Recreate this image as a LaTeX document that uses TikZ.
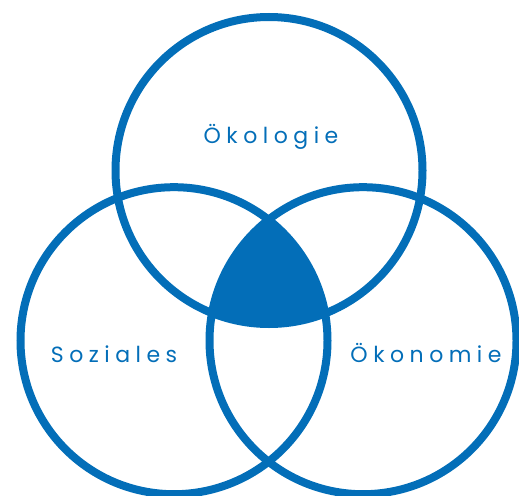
\documentclass[tikz,border=0pt]{standalone}
\usepackage{fontspec}
\setmainfont{Poppins}[LetterSpace=25]
\definecolor{vblue}{RGB}{3,110,184}
\tikzset{
  ring/.style={circle, draw=vblue, line width=8pt, inner sep=0pt, minimum size=307pt},
  lbl/.style={anchor=base, text=vblue, font=\fontsize{22}{26}\selectfont, inner sep=0pt}
}
\begin{document}
\begin{tikzpicture}[x=1pt,y=-1pt]
\useasboundingbox (0,0) rectangle (519,495);
\coordinate (ct) at (269,170.5);
\coordinate (cl) at (174,340.7);
\coordinate (cr) at (363,340.7);
\begin{scope}
  \clip (ct) circle (153.5pt);
  \clip (cl) circle (153.5pt);
  \fill[vblue] (cr) circle (153.5pt);
\end{scope}
\node[ring] (oek) at (ct) {};
\node[ring] (soz) at (cl) {};
\node[ring] (oko) at (cr) {};
\node[lbl] (toek) at (271,143.3) {Ökologie};
\node[lbl] (tsoz) at (114,362.7) {Soziales};
\node[lbl] (toko) at (426,362.7) {Ökonomie};
\end{tikzpicture}
\end{document}
